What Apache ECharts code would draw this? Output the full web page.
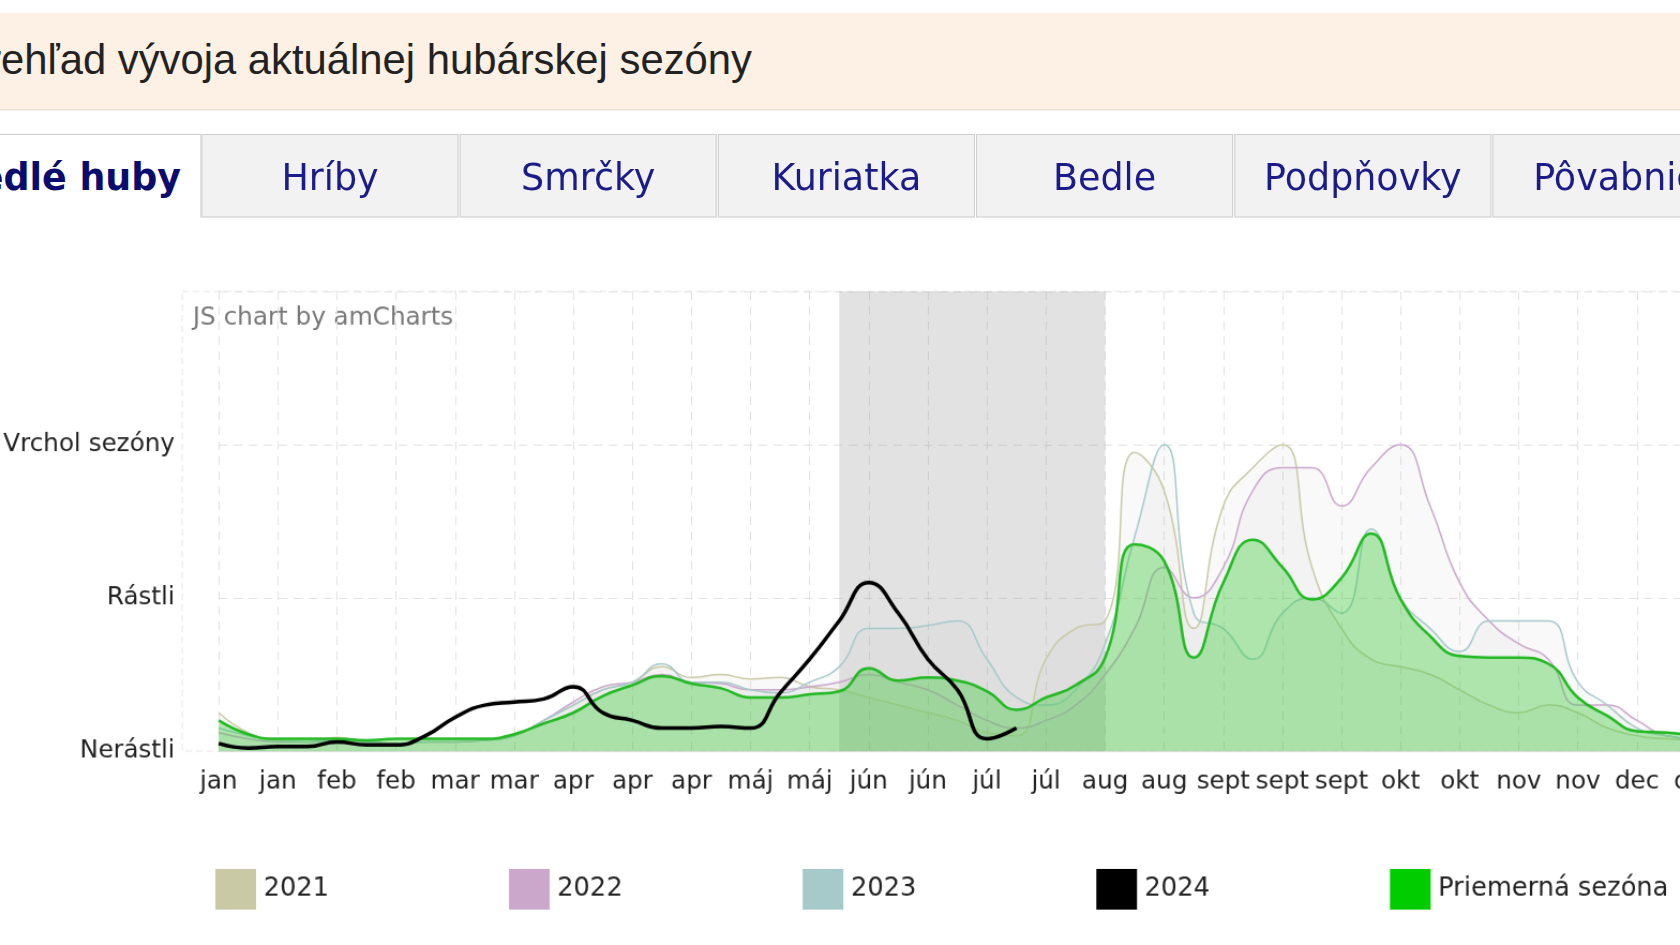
<!DOCTYPE html>
<html><head><meta charset="utf-8">
<script src="https://cdn.jsdelivr.net/npm/echarts@6/dist/echarts.min.js"></script>
<style>
html,body{margin:0;padding:0;width:1680px;height:945px;overflow:hidden;background:#fff;font-family:"Liberation Sans",Arial,sans-serif}
#wrap{position:absolute;left:0;top:0;width:1568px;height:882px;transform:scale(1.0714);transform-origin:0 0;overflow:hidden}
#banner{position:absolute;left:0;top:12px;width:1568px;height:90px;background:#fdf0e4;border-bottom:1px solid #e8ddd2}
#banner span{position:absolute;left:-12px;top:22px;font-size:39px;color:#222;white-space:nowrap}
.tab{position:absolute;top:125px;height:78px;width:240px;background:#f2f2f2;border:1px solid #cfcfcf;color:#1b1b8a;font-family:"DejaVu Sans",sans-serif;font-size:34px;text-align:center;line-height:78px;box-sizing:border-box}
#chart{position:absolute;left:0;top:230px;width:1640px;height:652px}
</style></head><body>
<div id="wrap">
<div id="banner"><span>rehľad vývoja aktuálnej hubárskej sezóny</span></div>
<div class="tab" style="left:-60px;width:248px;background:#fff;border-bottom:none;font-weight:bold;color:#0b0b6e;text-align:right;padding-right:18px">edlé huby</div>
<div class="tab" style="left:188px">Hríby</div>
<div class="tab" style="left:429px">Smrčky</div>
<div class="tab" style="left:670px">Kuriatka</div>
<div class="tab" style="left:911px">Bedle</div>
<div class="tab" style="left:1152px">Podpňovky</div>
<div class="tab" style="left:1393px;text-align:left;padding-left:37px">Pôvabnice</div>
<div id="chart"></div>
</div>
<script>
const tickLabels=['jan','jan','feb','feb','mar','mar','apr','apr','apr','máj','máj','jún','jún','júl','júl','aug','aug','sept','sept','sept','okt','okt','nov','nov','dec','dec'];
const avg=[0.2,0.11,0.08,0.08,0.08,0.07,0.08,0.08,0.08,0.08,0.11,0.18,0.25,0.36,0.43,0.49,0.44,0.41,0.35,0.35,0.37,0.39,0.54,0.46,0.48,0.46,0.39,0.27,0.35,0.43,0.61,1.35,1.24,0.61,1.1,1.38,1.2,0.99,1.13,1.42,0.99,0.75,0.62,0.61,0.61,0.57,0.35,0.23,0.13,0.12,0.1];
const y2021=[0.25,0.12,0.07,0.06,0.09,0.06,0.05,0.06,0.06,0.07,0.1,0.2,0.3,0.4,0.45,0.55,0.48,0.5,0.47,0.48,0.42,0.4,0.35,0.3,0.25,0.2,0.12,0.1,0.6,0.8,0.85,1.95,1.7,0.8,1.6,1.85,2.0,1.2,0.8,0.6,0.55,0.5,0.4,0.3,0.25,0.3,0.25,0.15,0.1,0.08,0.07];
const y2022=[0.12,0.08,0.06,0.06,0.07,0.06,0.05,0.06,0.06,0.07,0.1,0.2,0.32,0.42,0.45,0.5,0.45,0.44,0.4,0.4,0.42,0.45,0.5,0.45,0.4,0.3,0.2,0.15,0.2,0.3,0.5,0.8,1.2,1.0,1.2,1.7,1.85,1.85,1.6,1.85,2.0,1.6,1.1,0.85,0.7,0.6,0.3,0.3,0.2,0.1,0.08];
const y2023=[0.15,0.1,0.07,0.06,0.07,0.06,0.05,0.06,0.06,0.07,0.1,0.2,0.3,0.4,0.45,0.57,0.45,0.45,0.4,0.38,0.45,0.55,0.8,0.8,0.82,0.85,0.6,0.35,0.3,0.4,0.7,1.4,2.0,0.9,0.8,0.6,0.9,1.0,0.9,1.45,1.0,0.8,0.65,0.85,0.85,0.85,0.45,0.3,0.15,0.1,0.08];
const y2024=[0.05,0.02,0.03,0.03,0.06,0.04,0.04,0.1,0.22,0.3,0.32,0.34,0.42,0.25,0.2,0.15,0.15,0.16,0.15,0.38,0.6,0.85,1.1,0.9,0.6,0.4,0.08,0.15];
const yLabels={0:'Nerástli',1:'Rástli',2:'Vrchol sezóny'};
const cats=avg.map((v,i)=>i%2===0?tickLabels[i/2]:'');
const ch=echarts.init(document.getElementById('chart'));
const thin=(name,data,color)=>({name,type:'line',data,smooth:0.5,symbol:'none',lineStyle:{color,width:1.5},itemStyle:{color},areaStyle:{color:'rgba(120,120,120,0.06)'},z:3});
ch.setOption({
 animation:false,
 textStyle:{fontFamily:'"DejaVu Sans",sans-serif'},
 grid:{left:182,right:57,top:42,bottom:181},
 graphic:[{type:'rect',shape:{x:170,y:42,width:1470,height:429},style:{fill:'none',stroke:'#e6e6e6',lineDash:[6,4]}},
  {type:'text',left:180,top:56,style:{text:'JS chart by amCharts',fill:'#777',font:'23px "DejaVu Sans",sans-serif'}}],
 legend:{left:196,top:576,itemWidth:38,itemHeight:38,itemGap:168,icon:'rect',textStyle:{fontSize:24,color:'#222',padding:[0,0,0,2]},
  data:['2021','2022','2023','2024','Priemerná sezóna']},
 xAxis:{type:'category',boundaryGap:false,data:cats,
  axisLine:{lineStyle:{color:'#ddd'}},axisTick:{show:false},
  axisLabel:{interval:0,color:'#222',fontSize:23,margin:18},
  splitLine:{show:true,interval:1,lineStyle:{color:'#e2e2e2',type:[8,6]}}},
 yAxis:{type:'value',min:0,max:3,interval:1,
  axisLabel:{formatter:v=>yLabels[v]||'',color:'#222',fontSize:23,margin:41},
  axisLine:{show:false},axisTick:{show:false},
  splitLine:{lineStyle:{color:'#e2e2e2',type:[8,6]}}},
 series:[
  thin('2021',y2021,'#c9c9a6'),
  thin('2022',y2022,'#cba7cc'),
  thin('2023',y2023,'#a6c9c9'),
  {name:'Priemerná sezóna',type:'line',data:avg,smooth:0.5,symbol:'none',lineStyle:{color:'#22b922',width:2.5},itemStyle:{color:'#00cc00'},areaStyle:{color:'rgba(60,205,60,0.55)'},z:4,
   markArea:{silent:true,itemStyle:{color:'rgba(150,150,150,0.28)'},data:[[{xAxis:21},{xAxis:30}]]}},
  {name:'2024',type:'line',data:y2024,smooth:0.5,symbol:'none',lineStyle:{color:'#000',width:3.5},itemStyle:{color:'#000'},z:5}
 ]
});
</script></body></html>
